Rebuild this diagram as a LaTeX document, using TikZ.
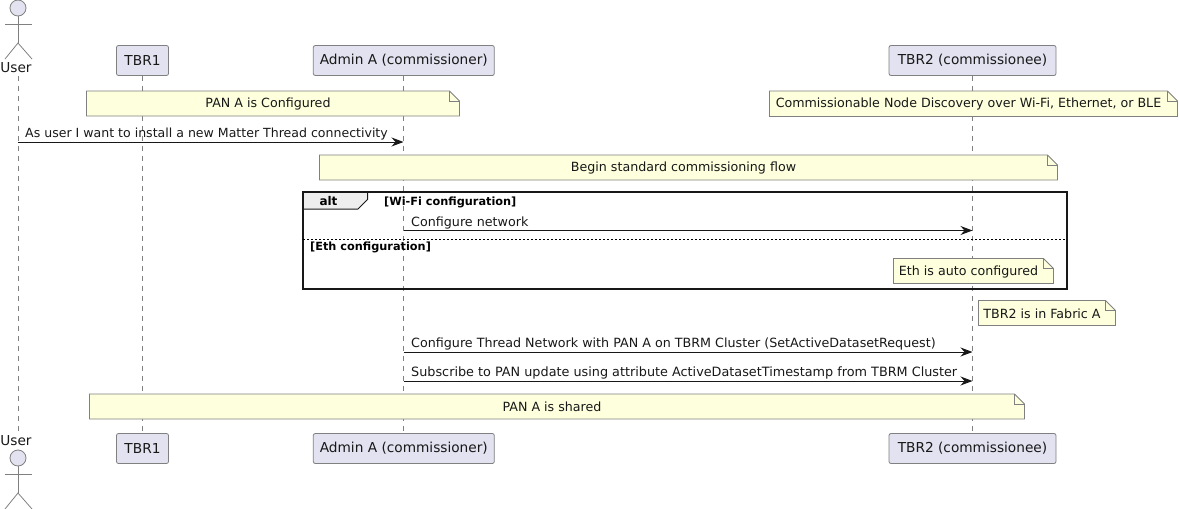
\documentclass[tikz,border=0pt]{standalone}
\usepackage{fontspec}
\setmainfont{DejaVu Sans}
\usetikzlibrary{arrows.meta}
\tikzset{>={Stealth[length=12pt,width=9pt,inset=4pt]}}
\definecolor{partfill}{HTML}{E2E2F0}
\definecolor{notefill}{HTML}{FEFFDD}
\definecolor{tabfill}{HTML}{EEEEEE}
\definecolor{inkline}{HTML}{181818}
\definecolor{softline}{HTML}{808080}
\newcommand{\notebox}[6]{%
  \draw[notepath] (#2,#3) -- (#4-10,#3) -- (#4,#3+10) -- (#4,#5) -- (#2,#5) -- cycle;
  \draw[notefold] (#4-10,#3) -- (#4-10,#3+10) -- (#4,#3+10);
  \node[ntext] (#1) at ({(#2+#4-10)/2},{(#3+#5)/2+0.7}) {#6};}
\newcommand{\stickman}[3]{%
  \node[headnode] (#1) at (18,#2) {};
  \draw[stick] (#1.south) -- (18,#2+35);
  \draw[stick] (5,#2+16) -- (32,#2+16);
  \draw[stick] (5,#2+51) -- (18,#2+35) -- (32,#2+51);}

\begin{document}
\begin{tikzpicture}[x=1pt,y=-1pt,font=\fontsize{12.65pt}{15pt}\selectfont]
  \tikzstyle{part} = [draw=softline, fill=partfill, rounded corners=2pt, minimum height=30pt, inner sep=0pt, line width=0.8pt, text=inkline, font=\fontsize{13.7pt}{15pt}\selectfont]
  \tikzstyle{lifeline} = [draw=softline, line width=0.8pt, dash pattern=on 5pt off 5pt]
  \tikzstyle{notepath} = [draw=softline, fill=notefill, line width=0.8pt]
  \tikzstyle{notefold} = [draw=softline, line width=0.8pt]
  \tikzstyle{ntext} = [inner sep=0pt, text=inkline]
  \tikzstyle{mtext} = [inner sep=0pt, anchor=base west, text=inkline]
  \tikzstyle{msg} = [->, draw=inkline, line width=1pt]
  \tikzstyle{headnode} = [circle, draw=softline, fill=partfill, minimum size=16pt, inner sep=0pt, line width=0.8pt]
  \tikzstyle{stick} = [draw=softline, line width=0.8pt]
  \tikzstyle{ftext} = [inner sep=0pt, anchor=base west, font=\fontsize{11.3pt}{13pt}\selectfont\bfseries, text=black]
  \useasboundingbox (0,0) rectangle (1179,509);

  % participants
  \node[part, minimum width=52pt] (tbrtop) at (142.5,60.5) {TBR1};
  \node[part, minimum width=181pt] (admintop) at (403.8,60.5) {Admin A (commissioner)};
  \node[part, minimum width=167pt] (tbrtwotop) at (972.5,60.5) {TBR2 (commissionee)};
  \node[part, minimum width=52pt] (tbrbot) at (142.5,448.5) {TBR1};
  \node[part, minimum width=181pt] (adminbot) at (403.8,448.5) {Admin A (commissioner)};
  \node[part, minimum width=167pt] (tbrtwobot) at (972.5,448.5) {TBR2 (commissionee)};
  \node[ntext, font=\fontsize{13.7pt}{15pt}\selectfont] (usertop) at (16,68) {User};
  \node[ntext, font=\fontsize{13.7pt}{15pt}\selectfont] (userbot) at (16,441) {User};
  \stickman{headtop}{8}{}
  \stickman{headbot}{458}{}

  % lifelines
  \coordinate (lifetop) at (18,76);
  \coordinate (lifebot) at (18,432);
  \draw[lifeline] (lifetop) -- (lifebot);
  \draw[lifeline] (tbrtop.south) -- (tbrbot.north);
  \draw[lifeline] (admintop.south) -- (adminbot.north);
  \draw[lifeline] (tbrtwotop.south) -- (tbrtwobot.north);

  % notes
  \notebox{confnote}{86.5}{91}{459.5}{116}{PAN A is Configured}
  \notebox{discnote}{769.5}{91}{1177.5}{116.5}{Commissionable Node Discovery over Wi-Fi, Ethernet, or BLE}
  \notebox{beginnote}{319.5}{155}{1057.5}{180}{Begin standard commissioning flow}
  \notebox{ethnote}{893.5}{258.5}{1053.5}{283.5}{Eth is auto configured}
  \notebox{fabricnote}{978.5}{300.5}{1115.5}{325.5}{TBR2 is in Fabric A}
  \notebox{sharednote}{89.5}{394}{1024.5}{419}{PAN A is shared}

  % alt frame
  \draw[draw=inkline, line width=2pt] (303,192) rectangle (1067,288.5);
  \draw[draw=inkline, fill=tabfill, line width=1pt] (303,192) -- (367.5,192) -- (367.5,199.5) -- (358,209) -- (303,209) -- cycle;
  \draw[draw=inkline, line width=2pt] (303,192) -- (367.5,192) (303,192) -- (303,209);
  \node[inner sep=0pt, font=\fontsize{12pt}{15pt}\selectfont\bfseries, text=black] (alttab) at (328.5,201) {alt};
  \node[ftext] (wifiguard) at (384,205) {[Wi-Fi configuration]};
  \node[ftext] (ethguard) at (310,250) {[Eth configuration]};
  \draw[draw=black, line width=0.7pt, dash pattern=on 2pt off 2pt] (303,239.5) -- (1067,239.5);

  % messages
  \coordinate (useram) at (18,142);
  \coordinate (adminam) at (403.5,142);
  \coordinate (adminbm) at (403.5,230.5);
  \coordinate (tbrbm) at (972.5,230.5);
  \coordinate (admincm) at (403.5,352);
  \coordinate (tbrcm) at (972.5,352);
  \coordinate (admindm) at (403.5,381);
  \coordinate (tbrdm) at (972.5,381);
  \draw[msg] (useram) -- (adminam);
  \draw[msg] (adminbm) -- (tbrbm);
  \draw[msg] (admincm) -- (tbrcm);
  \draw[msg] (admindm) -- (tbrdm);
  \node[mtext, font=\fontsize{12.55pt}{15pt}\selectfont] (msga) at (25,137) {As user I want to install a new Matter Thread connectivity};
  \node[mtext, font=\fontsize{12.7pt}{15pt}\selectfont] (msgb) at (411,226) {Configure network};
  \node[mtext, font=\fontsize{12.7pt}{15pt}\selectfont] (msgc) at (411,347) {Configure Thread Network with PAN A on TBRM Cluster (SetActiveDatasetRequest)};
  \node[mtext, font=\fontsize{12.8pt}{15pt}\selectfont] (msgd) at (411,376) {Subscribe to PAN update using attribute ActiveDatasetTimestamp from TBRM Cluster};
\end{tikzpicture}
\end{document}
